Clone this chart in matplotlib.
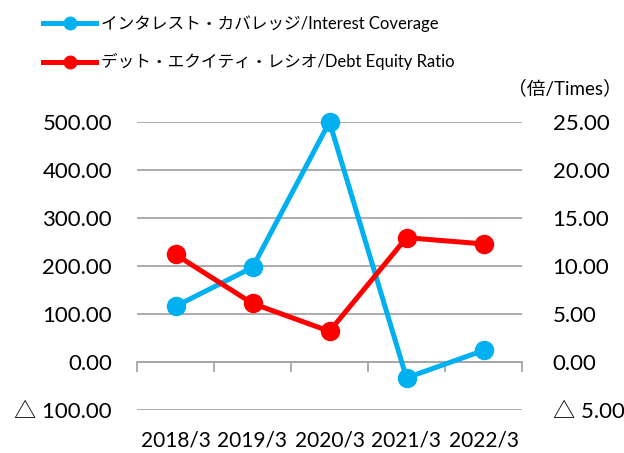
import matplotlib
matplotlib.use("Agg")
import matplotlib.pyplot as plt
from matplotlib.lines import Line2D
from matplotlib.ticker import FuncFormatter

plt.rcParams['font.family'] = ['Lato', 'Noto Sans CJK JP', 'DejaVu Sans']

categories = ["2018/3", "2019/3", "2020/3", "2021/3", "2022/3"]
interest_coverage = [116, 197, 500, -33, 24]
debt_equity_ratio = [11.2, 6.1, 3.2, 12.95, 12.3]
left_ticks = [-100, 0, 100, 200, 300, 400, 500]
right_ticks = [-5, 0, 5, 10, 15, 20, 25]
label_ic = "インタレスト・カバレッジ/Interest Coverage"
label_de = "デット・エクイティ・レシオ/Debt Equity Ratio"
unit_label = "（倍/Times）"

BLUE = "#00B0F0"
RED = "#FF0000"
GRID = "#A6A6A6"

fig = plt.figure(figsize=(6.24, 4.53), dpi=100)
ax = fig.add_axes([137/624, 1-410/453, (522-137)/624, (410-122)/453])
ax2 = ax.twinx()

x = list(range(len(categories)))

def fmt(v, pos):
    if v < 0:
        return "△ {:.2f}".format(-v)
    return "{:.2f}".format(v)

ax.set_xlim(-0.5, len(categories) - 0.5)
ax.set_ylim(-100, 500)
ax2.set_ylim(-5, 25)
ax.set_yticks(left_ticks)
ax2.set_yticks(right_ticks)
ax.yaxis.set_major_formatter(FuncFormatter(fmt))
ax2.yaxis.set_major_formatter(FuncFormatter(fmt))

ax.grid(axis='y', color=GRID, linewidth=1.3)
ax.set_axisbelow(True)
for a in (ax, ax2):
    for s in a.spines.values():
        s.set_visible(False)
ax.tick_params(axis='y', length=0, pad=18, labelsize=16, labelcolor='black')
ax2.tick_params(axis='y', length=0, pad=22, labelsize=16)
ax.set_xticks(x)
ax.set_xticklabels(categories)
ax.tick_params(axis='x', length=0, pad=15, labelsize=15)

# category axis at zero with boundary tick marks
sec = ax.secondary_xaxis(100/600)
sec.set_xticks([i - 0.5 for i in range(len(categories) + 1)])
sec.set_xticklabels([])
sec.tick_params(axis='x', direction='out', length=7, width=1.3, color=GRID)
sec.spines['bottom'].set_color(GRID)
sec.spines['bottom'].set_linewidth(1.3)

ax.plot(x, interest_coverage, color=BLUE, linewidth=3.6, marker='o',
        markersize=13, zorder=3, clip_on=False)
ax2.plot(x, debt_equity_ratio, color=RED, linewidth=3.6, marker='o',
         markersize=13, zorder=3, clip_on=False)

handles = [Line2D([], [], color=BLUE, linewidth=3.6, marker='o', markersize=9),
           Line2D([], [], color=RED, linewidth=3.6, marker='o', markersize=9)]
fig.legend(handles, [label_ic, label_de], loc='upper left',
           bbox_to_anchor=(38/624, 1 - 10/453), frameon=False,
           fontsize=12, handlelength=3.2, handletextpad=0.3,
           labelspacing=1.3, borderaxespad=0, borderpad=0.3)

fig.text(622/624, 1 - 88/453, unit_label, ha='right', va='center',
         fontsize=13.5, family=['Lato', 'Noto Sans CJK JP'])

fig.savefig("out.png", dpi=100)
